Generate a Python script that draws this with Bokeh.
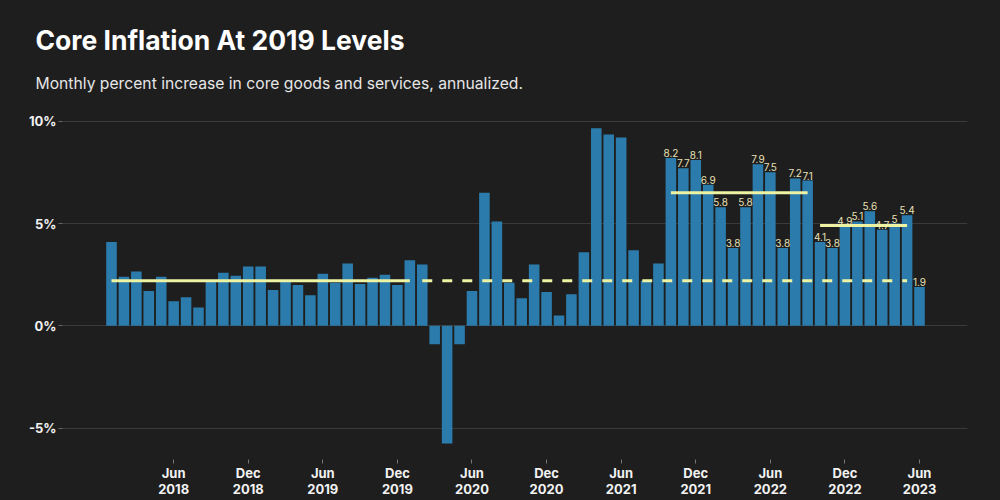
from bokeh.plotting import figure
from bokeh.models import ColumnDataSource, Range1d, FixedTicker, Title, GlobalInlineStyleSheet
from bokeh.embed import file_html
from bokeh.resources import INLINE
from bokeh.core.properties import value

# ---------------- data ----------------
title_text = "Core Inflation At 2019 Levels"
subtitle_text = "Monthly percent increase in core goods and services, annualized."

start_year = 2018
months = [f"{start_year + i // 12}-{i % 12 + 1:02d}" for i in range(66)]  # Jan 2018 .. Jun 2023

values = [4.1, 2.4, 2.65, 1.7, 2.4, 1.2, 1.4, 0.9, 2.2, 2.6, 2.45, 2.9,
          2.9, 1.75, 2.2, 2.0, 1.5, 2.55, 2.1, 3.05, 2.05, 2.35, 2.5, 2.0,
          3.2, 3.0, -0.9, -5.75, -0.9, 1.7, 6.5, 5.1, 2.1, 1.35, 3.0, 1.65,
          0.5, 1.55, 3.6, 9.65, 9.35, 9.2, 3.7, 2.2, 3.05, 8.2, 7.7, 8.1,
          6.9, 5.8, 3.8, 5.8, 7.9, 7.5, 3.8, 7.2, 7.1, 4.1, 3.8, 4.9,
          5.1, 5.6, 4.7, 5.0, 5.4, 1.9]

first_labeled_month = "2021-10"

tick_months = ["2018-06", "2018-12", "2019-06", "2019-12", "2020-06", "2020-12",
               "2021-06", "2021-12", "2022-06", "2022-12", "2023-06"]
tick_labels = ["Jun\n2018", "Dec\n2018", "Jun\n2019", "Dec\n2019", "Jun\n2020", "Dec\n2020",
               "Jun\n2021", "Dec\n2021", "Jun\n2022", "Dec\n2022", "Jun\n2023"]

y_ticks = [-5, 0, 5, 10]
y_tick_labels = ["-5%", "0%", "5%", "10%"]

# reference levels: (start month, end month, level)
solid_starts = ["2018-01", "2021-10", "2022-10"]
solid_ends = ["2020-01", "2022-09", "2023-05"]
solid_levels = [2.2, 6.5, 4.9]
dashed_start = "2020-02"
dashed_end = "2023-05"
dashed_level = 2.2

# ---------------- style ----------------
BG = "#1e1e1e"
BAR = "#2b7cad"
GRID = "#3a3a3a"
YELLOW = "#eef3a4"
LABEL = "#e8e0b6"
FONT = "Inter"

idx = list(range(len(months)))
src = ColumnDataSource(dict(x=idx, v=values))

start_i = months.index(first_labeled_month)
lab_src = ColumnDataSource(dict(
    x=idx[start_i:],
    y=values[start_i:],
    t=[f"{v:g}" for v in values[start_i:]],
))

p = figure(width=1000, height=500,
           x_range=Range1d(-3.94, 68.86), y_range=Range1d(-6.53, 10.62),
           output_backend="svg", toolbar_location=None,
           min_border_left=62, min_border_right=33, min_border_top=108, min_border_bottom=41,
           background_fill_color=BG, border_fill_color=BG, outline_line_color=None)
p.stylesheets = [GlobalInlineStyleSheet(css="html, body {margin:0; padding:0; background:#1e1e1e; overflow:hidden;}")]

p.vbar(x="x", top="v", width=0.85, source=src, fill_color=BAR, line_color=None)

p.text(x="x", y="y", text="t", source=lab_src, text_align="center", text_baseline="bottom",
       y_offset=-1, text_font=value(FONT), text_font_size="10px", text_color=LABEL)

seg_src = ColumnDataSource(dict(
    x0=[months.index(m) for m in solid_starts],
    x1=[months.index(m) for m in solid_ends],
    y=solid_levels,
))
p.segment(x0="x0", y0="y", x1="x1", y1="y", source=seg_src, line_color=YELLOW, line_width=3)
dash_src = ColumnDataSource(dict(x0=[months.index(dashed_start)], x1=[months.index(dashed_end)],
                                 y=[dashed_level]))
p.segment(x0="x0", y0="y", x1="x1", y1="y", source=dash_src, line_color=YELLOW, line_width=3,
          line_dash="10 10")

# axes
p.xgrid.visible = False
p.ygrid.ticker = FixedTicker(ticks=y_ticks)
p.ygrid.grid_line_color = GRID
p.ygrid.grid_line_width = 1

xa = p.xaxis[0]
xa.ticker = FixedTicker(ticks=[months.index(m) for m in tick_months])
xa.major_label_overrides = {months.index(m): l for m, l in zip(tick_months, tick_labels)}
xa.axis_line_color = None
xa.major_tick_in = 0
xa.major_tick_out = 4
xa.major_tick_line_color = "#777777"
xa.minor_tick_line_color = None
xa.major_label_standoff = 1
xa.major_label_text_font = FONT
xa.major_label_text_font_style = "bold"
xa.major_label_text_font_size = "13px"
xa.major_label_text_color = "#f2f2f2"
xa.major_label_text_line_height = 1.05

ya = p.yaxis[0]
ya.ticker = FixedTicker(ticks=y_ticks)
ya.major_label_overrides = {t: l for t, l in zip(y_ticks, y_tick_labels)}
ya.axis_line_color = None
ya.major_tick_in = 0
ya.major_tick_out = 4
ya.major_tick_line_color = "#666666"
ya.minor_tick_line_color = None
ya.major_label_standoff = 2
ya.major_label_text_font = FONT
ya.major_label_text_font_style = "bold"
ya.major_label_text_font_size = "13px"
ya.major_label_text_color = "#f2f2f2"

# title + subtitle (first added sits closest to the frame)
p.add_layout(Title(text=subtitle_text, align="left", offset=-27, standoff=31,
                   text_font=FONT, text_font_style="normal", text_font_size="15.7px",
                   text_color="#e6e6e6"), "above")
p.add_layout(Title(text=title_text, align="left", offset=-27, standoff=1,
                   text_font=FONT, text_font_style="bold", text_font_size="26.5px",
                   text_color="#ffffff"), "above")

open("out.html", "w").write(file_html(p, INLINE))
